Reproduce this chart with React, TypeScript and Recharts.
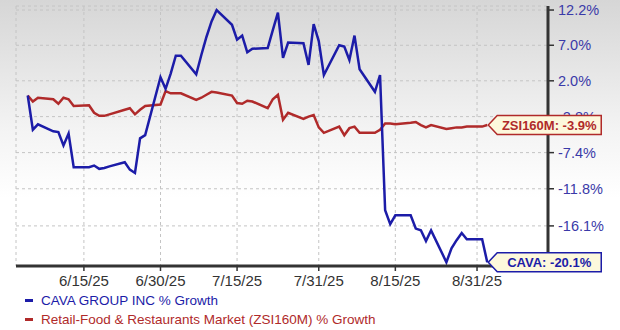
import { LineChart, Line, XAxis, YAxis, CartesianGrid } from "recharts";

const dates = [
  "6/4", "6/5", "6/6", "6/9", "6/10", "6/11", "6/12", "6/13", "6/16", "6/17",
  "6/18", "6/19", "6/20", "6/23", "6/24", "6/25", "6/26", "6/27", "6/30", "7/1",
  "7/2", "7/3", "7/4", "7/7", "7/8", "7/9", "7/10", "7/11", "7/14", "7/15",
  "7/16", "7/17", "7/18", "7/21", "7/22", "7/23", "7/24", "7/25", "7/28", "7/29",
  "7/30", "7/31", "8/1", "8/4", "8/5", "8/6", "8/7", "8/8", "8/11", "8/12",
  "8/13", "8/14", "8/15", "8/18", "8/19", "8/20", "8/21", "8/22", "8/25", "8/26",
  "8/27", "8/28", "8/29", "9/1", "9/2",
];

// % growth since start
const cava = [
  0.0, -4.5, -3.8, -4.7, -4.8, -6.5, -5.0, -9.2, -9.2, -9.0,
  -9.4, -9.3, -9.1, -8.6, -9.5, -9.9, -5.6, -5.2, 2.5, 0.9,
  3.0, 5.5, 5.5, 2.9, 5.6, 8.2, 10.5, 12.2, 10.0, 7.8,
  8.4, 6.0, 6.5, 6.6, 9.2, 11.8, 5.2, 7.4, 7.3, 4.2,
  10.1, 7.6, 2.8, 7.0, 6.8, 4.9, 8.4, 3.6, 0.5, 2.8,
  -14.3, -15.9, -14.9, -14.9, -16.4, -16.6, -17.8, -16.6, -20.1, -18.6,
  -17.7, -16.9, -17.6, -17.6, -20.1,
];

const zsi = [
  0.0, -0.8, -0.3, -0.5, -1.1, -0.3, -0.5, -1.4, -1.3, -2.3,
  -2.7, -2.7, -2.5, -1.9, -1.7, -2.5, -1.9, -1.4, -1.2, 0.6,
  0.3, 0.3, 0.3, -0.6, -0.3, 0.1, 0.5, 0.4, 0.0, -1.0,
  -1.1, -0.7, -0.8, -1.7, -0.5, 0.1, -3.2, -2.3, -3.1, -2.8,
  -2.6, -4.2, -4.9, -4.1, -5.2, -4.3, -4.1, -4.9, -4.9, -4.5,
  -3.7, -3.7, -3.8, -3.6, -3.5, -3.9, -4.2, -3.9, -4.4, -4.3,
  -4.2, -4.2, -4.1, -4.1, -3.9,
];

const xTickDates = ["6/15", "6/30", "7/15", "7/31", "8/15", "8/31"];
const yTickPcts = [12.2, 7.0, 2.0, -2.8, -7.4, -11.8, -16.1];

const BLUE = "#1c1ca8";
const RED = "#b02a2a";
const FONT = "Liberation Sans, Arial, sans-serif";

const dayOf = (md: string) => {
  const [m, d] = md.split("/").map(Number);
  return (Date.UTC(2025, m - 1, d) - Date.UTC(2025, 5, 1)) / 86400000;
};

const data = dates.map((d, i) => ({ day: dayOf(d), cava: cava[i], zsi: zsi[i] }));
const lastIdx = data.length - 1;
const xTicks = xTickDates.map(dayOf);

const toRatio = (p: number) => 1 + p / 100;

const EndTag = (props: any) => {
  const { x, y, index, color, name, value } = props;
  if (index !== lastIdx) return null;
  const tx = x + 1;
  const w = 104;
  const h = 19;
  const path = `M${tx},${y} L${tx + 9},${y - h / 2} L${tx + 9 + w},${y - h / 2} L${tx + 9 + w},${y + h / 2} L${tx + 9},${y + h / 2} Z`;
  return (
    <g>
      <path d={path} fill="#fdf8dc" stroke={color} strokeWidth={1.5} />
      <text x={tx + 9 + w / 2} y={y + 5} textAnchor="middle" fill={color} fontSize={13} fontWeight="bold" fontFamily={FONT}>
        {`${name}: ${value.toFixed(1)}%`}
      </text>
    </g>
  );
};

export default function App() {
  return (
    <div
      style={{
        position: "fixed",
        left: 0,
        top: 0,
        width: 620,
        height: 330,
        background: "linear-gradient(#d6d6d6 0%, #f4f4f4 40%, #ffffff 60%)",
      }}
    >
      <LineChart width={620} height={330} data={data} margin={{ top: 6, right: 0, left: 16, bottom: 0 }}>
        <CartesianGrid stroke="#c4c4c4" strokeDasharray="3 3" />
        <XAxis
          dataKey="day"
          type="number"
          domain={[0.7, 104.9]}
          ticks={xTicks}
          tickFormatter={(v: number) => `${xTickDates[xTicks.indexOf(v)]}/25`}
          height={64}
          axisLine={{ stroke: "#333", strokeWidth: 3 }}
          tickLine={{ stroke: "#333", strokeWidth: 1.5 }}
          tickSize={5}
          tickMargin={4}
          tick={{ fill: "#333", fontSize: 15, fontFamily: FONT }}
          allowDataOverflow
        />
        <YAxis
          orientation="right"
          type="number"
          scale="log"
          domain={[0.7949, 1.1281]}
          ticks={yTickPcts.map(toRatio)}
          tickFormatter={(v: number) => `${((v - 1) * 100).toFixed(1)}%`}
          width={72}
          axisLine={{ stroke: "#333", strokeWidth: 3 }}
          tickLine={{ stroke: "#333", strokeWidth: 1.5 }}
          tickSize={6}
          tickMargin={4}
          tick={{ fill: "#3a3aa8", fontSize: 14.5, fontFamily: FONT }}
          allowDataOverflow
        />
        <Line
          dataKey={(d: any) => toRatio(d.zsi)}
          stroke={RED}
          strokeWidth={2.5}
          dot={false}
          isAnimationActive={false}
          label={(p: any) => <EndTag {...p} color={RED} name="ZSI160M" value={zsi[lastIdx]} />}
        />
        <Line
          dataKey={(d: any) => toRatio(d.cava)}
          stroke={BLUE}
          strokeWidth={2.5}
          dot={false}
          isAnimationActive={false}
          label={(p: any) => <EndTag {...p} color={BLUE} name="CAVA" value={cava[lastIdx]} />}
        />
      </LineChart>
      <div style={{ position: "absolute", left: 25, top: 291, fontFamily: FONT, fontSize: 13.5, lineHeight: "19px" }}>
        <div style={{ color: BLUE, display: "flex", alignItems: "center" }}>
          <span style={{ display: "inline-block", width: 8, height: 3, background: BLUE, marginRight: 8 }} />
          CAVA GROUP INC % Growth
        </div>
        <div style={{ color: RED, display: "flex", alignItems: "center" }}>
          <span style={{ display: "inline-block", width: 8, height: 3, background: RED, marginRight: 8 }} />
          Retail-Food &amp; Restaurants Market (ZSI160M) % Growth
        </div>
      </div>
    </div>
  );
}
